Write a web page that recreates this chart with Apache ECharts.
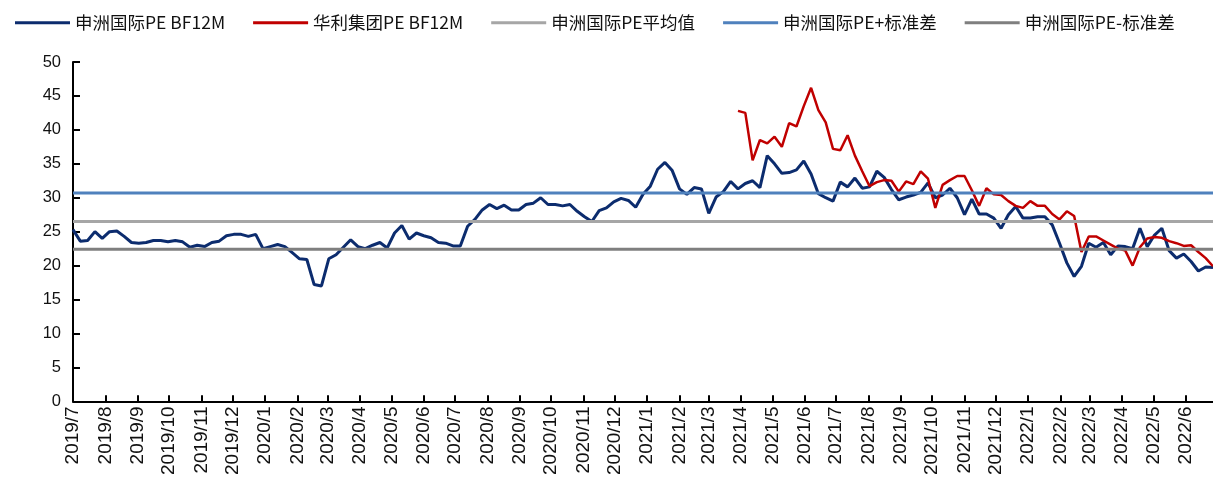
<!DOCTYPE html>
<html>
<head>
<meta charset="utf-8">
<script src="https://cdn.jsdelivr.net/npm/echarts@6/dist/echarts.min.js"></script>
<style>
html,body{margin:0;padding:0;background:#fff;}
#chart{width:1213px;height:478px;}
</style>
</head>
<body>
<div id="chart"></div>
<script>
// ---- data ----
const seriesNames = ['申洲国际PE BF12M', '华利集团PE BF12M', '申洲国际PE平均值', '申洲国际PE+标准差', '申洲国际PE-标准差'];
const monthLabels = ['2019/7','2019/8','2019/9','2019/10','2019/11','2019/12',
  '2020/1','2020/2','2020/3','2020/4','2020/5','2020/6','2020/7','2020/8','2020/9','2020/10','2020/11','2020/12',
  '2021/1','2021/2','2021/3','2021/4','2021/5','2021/6','2021/7','2021/8','2021/9','2021/10','2021/11','2021/12',
  '2022/1','2022/2','2022/3','2022/4','2022/5','2022/6'];
const startDate = '2019-07-01';
const endDay = 1092;        // last observation, days after startDate
const stepDays = 7;         // weekly observations
const yTicks = [0,5,10,15,20,25,30,35,40,45,50];
// 申洲国际 weekly PE from week 0
const shenzhouPE = [
  25.3,23.6,23.7,25.0,24.0,25.0,25.1,24.3,23.4,23.3,
  23.4,23.7,23.7,23.5,23.7,23.5,22.7,23.0,22.8,23.4,
  23.6,24.4,24.6,24.6,24.3,24.6,22.5,22.8,23.1,22.8,
  21.9,21.0,20.9,17.2,17.0,21.0,21.6,22.7,23.8,22.8,
  22.5,23.0,23.4,22.6,24.8,25.9,23.9,24.8,24.4,24.1,
  23.4,23.3,22.9,22.9,25.8,26.8,28.2,29.0,28.4,28.9,
  28.2,28.2,29.0,29.2,30.0,29.0,29.0,28.8,29.0,28.0,
  27.2,26.5,28.1,28.5,29.4,29.9,29.6,28.6,30.5,31.7,
  34.2,35.2,34.0,31.3,30.5,31.5,31.3,27.7,30.1,30.9,
  32.4,31.3,32.1,32.5,31.5,36.2,35.0,33.6,33.7,34.1,
  35.4,33.5,30.6,30.0,29.5,32.3,31.6,32.9,31.4,31.6,
  33.9,33.0,31.2,29.7,30.1,30.4,30.8,32.2,30.0,30.4,
  31.4,30.0,27.5,29.8,27.6,27.6,27.0,25.5,27.5,28.7,
  27.0,27.0,27.2,27.2,26.0,23.3,20.4,18.4,19.9,23.3,
  22.7,23.4,21.6,22.9,22.8,22.5,25.5,22.8,24.5,25.5,
  22.2,21.1,21.7,20.6,19.2,19.8,19.7
];
// 华利集团 weekly PE, begins at week 91
const hualiStartWeek = 91;
const hualiPE = [
  42.8,42.5,35.5,38.5,38.0,39.0,37.5,41.0,40.5,43.5,
  46.2,42.9,41.1,37.2,37.0,39.2,36.2,33.9,31.7,32.3,
  32.6,32.5,30.9,32.4,32.0,33.9,32.8,28.5,31.9,32.6,
  33.2,33.2,31.1,28.8,31.4,30.5,30.4,29.5,28.8,28.5,
  29.5,28.8,28.8,27.6,26.8,28.0,27.3,22.0,24.3,24.3,
  23.7,23.1,22.5,22.2,20.0,22.7,24.0,24.2,24.1,23.6,
  23.3,22.9,23.0,22.0,21.1,19.9
];
const peMean = 26.5;
const pePlusStd = 30.7;
const peMinusStd = 22.4;

// ---- build ----
const DAY = 86400000;
const t0 = Date.parse(startDate + 'T00:00:00Z');
function dayOf(label){
  const [y, m] = label.split('/').map(Number);
  return Math.round((Date.UTC(y, m - 1, 1) - t0) / DAY);
}
const monthDays = monthLabels.map(dayOf);
const labelByDay = {};
monthDays.forEach((d, i) => { labelByDay[d] = monthLabels[i]; });

const navyData = shenzhouPE.map((v, i) => [i * stepDays, v]);
const redData = hualiPE.map((v, i) => [(hualiStartWeek + i) * stepDays, v]);
const flat = v => [[0, v], [endDay, v]];

const colors = ['#0C2C6E', '#C00000', '#A6A6A6', '#4F81BD', '#7F7F7F'];
const widths = [3, 2.5, 3, 3, 3];
const datas = [navyData, redData, flat(peMean), flat(pePlusStd), flat(peMinusStd)];

const chart = echarts.init(document.getElementById('chart'), null, {renderer: 'canvas'});
chart.setOption({
  animation: false,
  backgroundColor: '#fff',
  color: colors,
  legend: {
    top: 9,
    left: 10,
    itemWidth: 55,
    itemHeight: 3,
    itemGap: 28,
    icon: 'rect',
    textStyle: {fontFamily: '"Noto Sans CJK SC", sans-serif', fontSize: 17.5, color: '#111'},
    data: seriesNames
  },
  grid: {left: 73, right: 0, top: 62, bottom: 75, containLabel: false},
  xAxis: {
    type: 'value',
    min: 0,
    max: endDay,
    axisLine: {show: true, lineStyle: {color: '#000', width: 2}},
    axisTick: {show: true, inside: true, length: 6, lineStyle: {color: '#000', width: 2}, customValues: monthDays},
    axisLabel: {
      customValues: monthDays,
      rotate: 90,
      margin: 5,
      fontFamily: '"Liberation Sans", Arial, sans-serif',
      fontSize: 19,
      color: '#111',
      formatter: v => labelByDay[Math.round(v)] || ''
    },
    splitLine: {show: false}
  },
  yAxis: {
    type: 'value',
    min: yTicks[0],
    max: yTicks[yTicks.length - 1],
    interval: yTicks[1] - yTicks[0],
    axisLine: {show: true, lineStyle: {color: '#000', width: 2}},
    axisTick: {show: true, inside: true, length: 7, lineStyle: {color: '#000', width: 2}},
    axisLabel: {fontFamily: '"Liberation Sans", Arial, sans-serif', fontSize: 16.5, color: '#111', margin: 12},
    splitLine: {show: false}
  },
  series: seriesNames.map((name, k) => ({
    name,
    type: 'line',
    data: datas[k],
    showSymbol: false,
    symbol: 'none',
    lineStyle: {color: colors[k], width: widths[k]},
    itemStyle: {color: colors[k]},
    emphasis: {disabled: true}
  }))
});
</script>
</body>
</html>
